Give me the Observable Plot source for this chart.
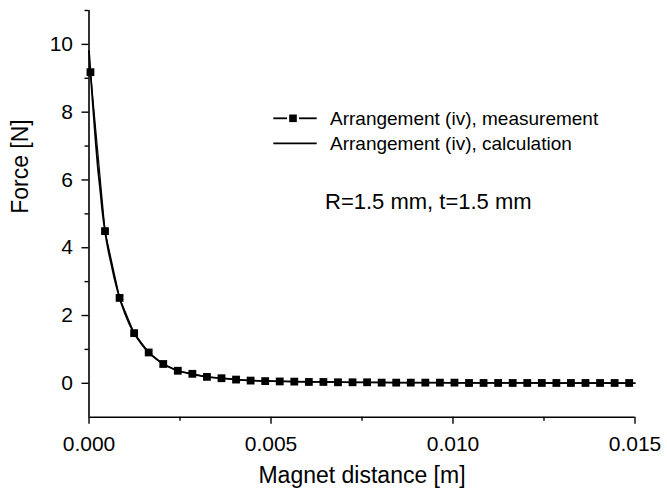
<!DOCTYPE html>
<html><head><meta charset="utf-8">
<script src="https://cdn.jsdelivr.net/npm/d3@7"></script>
<script src="https://cdn.jsdelivr.net/npm/@observablehq/plot@0.6"></script>
<style>html,body{margin:0;padding:0;background:#fff}</style>
</head><body><div id="chart"></div>
<script>
// Measurement (squares), distance in m, force in N
const measX = [0.00004, 0.00044, 0.00084, 0.00124, 0.00164, 0.00204, 0.00244, 0.00284, 0.00324, 0.00364,
  0.00404, 0.00444, 0.00484, 0.00524, 0.00564, 0.00604, 0.00644, 0.00684, 0.00724, 0.00764,
  0.00804, 0.00844, 0.00884, 0.00924, 0.00964, 0.01004, 0.01044, 0.01084, 0.01124, 0.01164,
  0.01204, 0.01244, 0.01284, 0.01324, 0.01364, 0.01404, 0.01444, 0.01484];
const measY = [9.18, 4.49, 2.52, 1.48, 0.91, 0.57, 0.37, 0.28, 0.19, 0.15,
  0.11, 0.08, 0.065, 0.055, 0.05, 0.04, 0.04, 0.03, 0.03, 0.03,
  0.02, 0.02, 0.02, 0.02, 0.02, 0.02, 0.01, 0.01, 0.01, 0.01,
  0.01, 0.01, 0.01, 0.01, 0.01, 0.01, 0.01, 0.01];
// Calculation (solid line)
const calcX = [0, 0.00004, 0.0001, 0.00018, 0.00024, 0.00031, 0.00037, 0.00044, 0.00052, 0.00061,
  0.00072, 0.00084, 0.00094, 0.00104, 0.00114, 0.00124, 0.00144, 0.00164, 0.00184, 0.00204,
  0.00224, 0.00244, 0.00284, 0.00324, 0.00364, 0.00404, 0.00444, 0.00484, 0.00524, 0.00564,
  0.00644, 0.00724, 0.00804, 0.009, 0.010, 0.011, 0.012, 0.013, 0.014, 0.015];
const calcY = [9.8, 9.2, 8.3, 7.17, 6.4, 5.69, 5.05, 4.49, 3.98, 3.53,
  3.0, 2.52, 2.2, 1.92, 1.68, 1.48, 1.16, 0.91, 0.72, 0.57,
  0.46, 0.37, 0.27, 0.19, 0.15, 0.11, 0.085, 0.07, 0.06, 0.05,
  0.04, 0.03, 0.025, 0.02, 0.015, 0.012, 0.01, 0.008, 0.007, 0.006];

const xMajorTicks = [0, 0.005, 0.010, 0.015];
const xMinorTicks = [0.0025, 0.0075, 0.0125];
const yMajorTicks = [0, 2, 4, 6, 8, 10];
const yMinorTicks = [1, 3, 5, 7, 9, 11];
const legendLabels = ["Arrangement (iv), measurement", "Arrangement (iv), calculation"];
const annotation = "R=1.5 mm, t=1.5 mm";
const xTitle = "Magnet distance [m]";
const yTitle = "Force [N]";

const meas = measX.map((x, i) => ({x, y: measY[i]}));
const calc = calcX.map((x, i) => ({x, y: calcY[i]}));

const W = 667, H = 489, mL = 88.5, mR = 32.5, mT = 10, mB = 72.3;
const font = "'Liberation Sans', Arial, Helvetica, sans-serif";

const plot = Plot.plot({
  width: W, height: H,
  marginLeft: mL, marginRight: mR, marginTop: mT, marginBottom: mB,
  style: {fontFamily: font, color: "#000", background: "#fff", overflow: "visible"},
  x: {domain: [0, 0.015], label: null},
  y: {domain: [-1, 11], label: null},
  marks: [
    Plot.axisX({ticks: xMinorTicks, tickSize: 4, tickFormat: () => "", strokeWidth: 1.4, label: null}),
    Plot.axisX({ticks: xMajorTicks, tickSize: 7, tickPadding: 12, tickFormat: d3.format(".3f"), fontSize: 21, strokeWidth: 1.4, label: null}),
    Plot.axisY({ticks: yMinorTicks, tickSize: 4, tickFormat: () => "", strokeWidth: 1.4, label: null}),
    Plot.axisY({ticks: yMajorTicks, tickSize: 7, tickPadding: 9, fontSize: 21, strokeWidth: 1.4, label: null}),
    Plot.ruleX([0], {stroke: "#000", strokeWidth: 1.6}),
    Plot.ruleY([-1], {stroke: "#000", strokeWidth: 1.6}),
    Plot.line(meas, {x: "x", y: "y", stroke: "#000", strokeWidth: 1.2}),
    Plot.line(calc, {x: "x", y: "y", curve: "monotone-x", stroke: "#000", strokeWidth: 1.8}),
    Plot.dot(meas, {x: "x", y: "y", symbol: "square", r: 4.4, fill: "#000", stroke: "none"}),
    Plot.text([xTitle], {text: d => d, frameAnchor: "bottom", dy: 66, lineAnchor: "bottom", fontSize: 23, fill: "#000"}),
    Plot.text([yTitle], {text: d => d, frameAnchor: "left", dx: -68, rotate: -90, lineAnchor: "middle", fontSize: 23, fill: "#000"})
  ]
});

// Legend and annotation (pixel layout)
const svg = d3.select(plot);
const g = svg.append("g").attr("font-family", font).attr("fill", "#000").attr("text-anchor", "start");
const rows = [{ly: 118.3, ty: 124.5, sym: true}, {ly: 143.3, ty: 150, sym: false}];
rows.forEach((r, i) => {
  if (r.sym) {
    g.append("line").attr("x1", 273.3).attr("x2", 287).attr("y1", r.ly).attr("y2", r.ly)
      .attr("stroke", "#000").attr("stroke-width", 1.8);
    g.append("line").attr("x1", 299).attr("x2", 316.7).attr("y1", r.ly).attr("y2", r.ly)
      .attr("stroke", "#000").attr("stroke-width", 1.8);
    g.append("rect").attr("x", 293 - 3.8).attr("y", r.ly - 3.8).attr("width", 7.6).attr("height", 7.6).attr("fill", "#000");
  } else {
    g.append("line").attr("x1", 273.3).attr("x2", 316.7).attr("y1", r.ly).attr("y2", r.ly)
      .attr("stroke", "#000").attr("stroke-width", 1.8);
  }
  g.append("text").attr("x", 330).attr("y", r.ty).attr("font-size", 19).attr("text-anchor", "start").text(legendLabels[i]);
});
g.append("text").attr("x", 325).attr("y", 209.3).attr("font-size", 22).attr("text-anchor", "start").text(annotation);

document.getElementById("chart").appendChild(plot);
</script>
</body></html>
